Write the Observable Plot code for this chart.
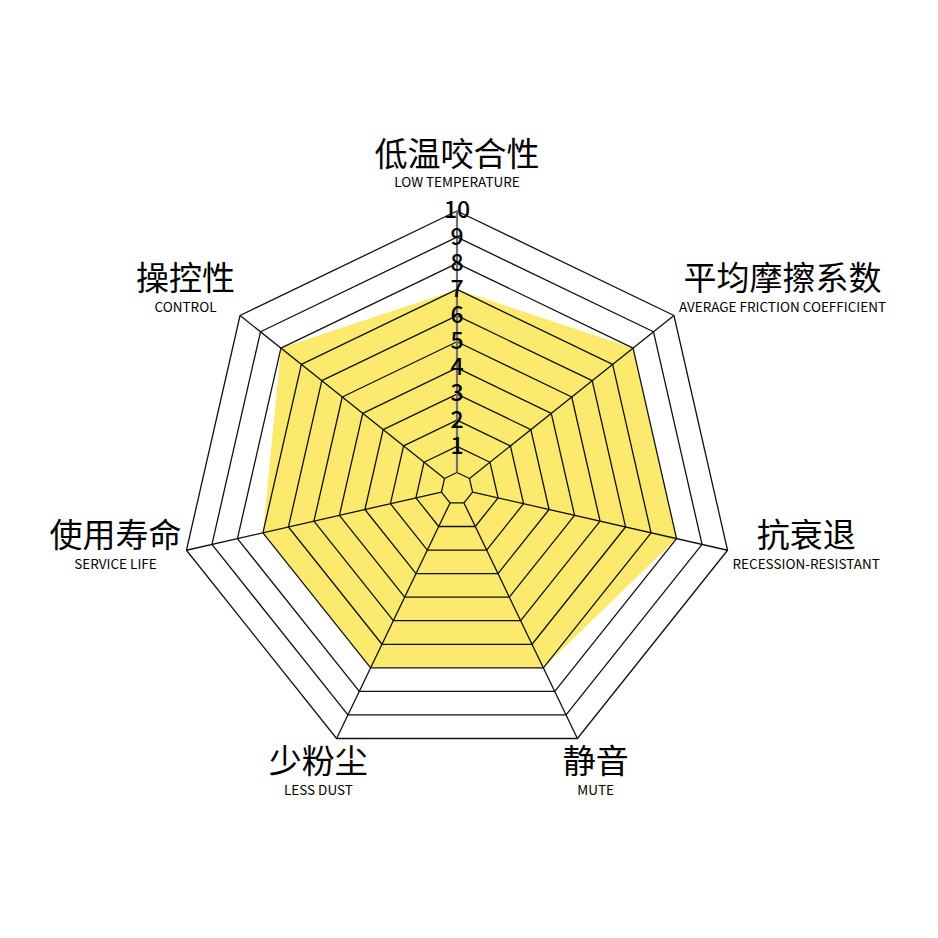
<!DOCTYPE html>
<html>
<head>
<meta charset="utf-8">
<script src="https://cdn.jsdelivr.net/npm/d3@7"></script>
<script src="https://cdn.jsdelivr.net/npm/@observablehq/plot@0.6"></script>
<style>
  html, body { margin: 0; padding: 0; background: #fff; }
  svg { display: block; }
</style>
</head>
<body>
<div id="chart"></div>
<script>
// ---------- data ----------
const axesZh = ["低温咬合性", "平均摩擦系数", "抗衰退", "静音", "少粉尘", "使用寿命", "操控性"];
const axesEn = ["LOW TEMPERATURE", "AVERAGE FRICTION COEFFICIENT", "RECESSION-RESISTANT", "MUTE", "LESS DUST", "SERVICE LIFE", "CONTROL"];
const scores = [7, 8, 8, 7, 7, 7, 8];
const ringLevels = [0, 1, 2, 3, 4, 5, 6, 7, 8, 9, 10];
const tickValues = [1, 2, 3, 4, 5, 6, 7, 8, 9, 10];
const tickLabels = ["1", "2", "3", "4", "5", "6", "7", "8", "9", "10"];
const maxValue = 10;

// ---------- layout ----------
const W = 938, H = 938;
const PX = 26.15;              // pixels per value unit
const CX = 456.5, CY = 488;    // chart centre in pixels
const OFF = 16 / PX;           // radius of the level-0 ring
const FONT = "'Noto Sans CJK SC', 'Noto Sans', sans-serif";
const ZH_SIZE = 33, EN_SIZE = 13.5;
const n = axesZh.length;
const ang = i => i * 2 * Math.PI / n;
const rad = v => OFF + v;
const px = (i, v) => Math.sin(ang(i)) * rad(v);
const py = (i, v) => Math.cos(ang(i)) * rad(v);

const ringData = ringLevels.flatMap(level => axesZh.map((_, i) => ({level, x: px(i, level), y: py(i, level)})));
const scoreData = scores.map((v, i) => ({x: px(i, v), y: py(i, v)}));
const spokes = axesZh.map((_, i) => ({i, x1: px(i, 0), y1: py(i, 0), x2: px(i, maxValue), y2: py(i, maxValue)}));
const ticks = tickValues.map((v, k) => ({label: tickLabels[k], x: 0, y: rad(v)}));

const ctx = document.createElement("canvas").getContext("2d");
function tw(text, size) { ctx.font = `${size}px 'Noto Sans CJK SC'`; return ctx.measureText(text).width; }

const labels = axesZh.map((zh, i) => {
  const a = ang(i), s = Math.sin(a), c = Math.cos(a);
  const r10 = rad(maxValue);
  let gx, gy;
  if (Math.abs(s) < 0.5) {
    const rho = r10 + 42 / PX;
    gx = s * rho; gy = c * rho;
  } else {
    const w = Math.max(tw(zh, ZH_SIZE), tw(axesEn[i], EN_SIZE)) / PX;
    gx = s * r10 + Math.sign(s) * (5 / PX + w / 2);
    gy = c * r10 + Math.max(c, 0) * 35 / PX;
  }
  return {zh, en: axesEn[i], x: gx, yZh: gy + 14 / PX, yEn: gy - 14 / PX};
});

const chart = Plot.plot({
  width: W,
  height: H,
  margin: 0,
  style: {background: "#fff"},
  x: {domain: [-CX / PX, (W - CX) / PX], axis: null},
  y: {domain: [-(H - CY) / PX, CY / PX], axis: null},
  marks: [
    Plot.line(scoreData, {x: "x", y: "y", curve: "linear-closed", fill: "#fbea6e", stroke: "none"}),
    Plot.line(ringData, {x: "x", y: "y", z: "level", curve: "linear-closed", stroke: "#111", strokeWidth: 1.3}),
    Plot.link(spokes.filter(d => d.i !== 0), {x1: "x1", y1: "y1", x2: "x2", y2: "y2", stroke: "#111", strokeWidth: 1.3}),
    Plot.link(spokes.filter(d => d.i === 0), {x1: "x1", y1: "y1", x2: "x2", y2: "y2", stroke: "#707070", strokeWidth: 2.2}),
    Plot.text(ticks, {x: "x", y: "y", text: "label", fontSize: 23, fontWeight: 500, fill: "#000", fontFamily: FONT}),
    Plot.text(labels, {x: "x", y: "yZh", text: "zh", fontSize: ZH_SIZE, fill: "#000", fontFamily: FONT}),
    Plot.text(labels, {x: "x", y: "yEn", text: "en", fontSize: EN_SIZE, fill: "#000", fontFamily: FONT})
  ]
});
document.getElementById("chart").appendChild(chart);
</script>
</body>
</html>
